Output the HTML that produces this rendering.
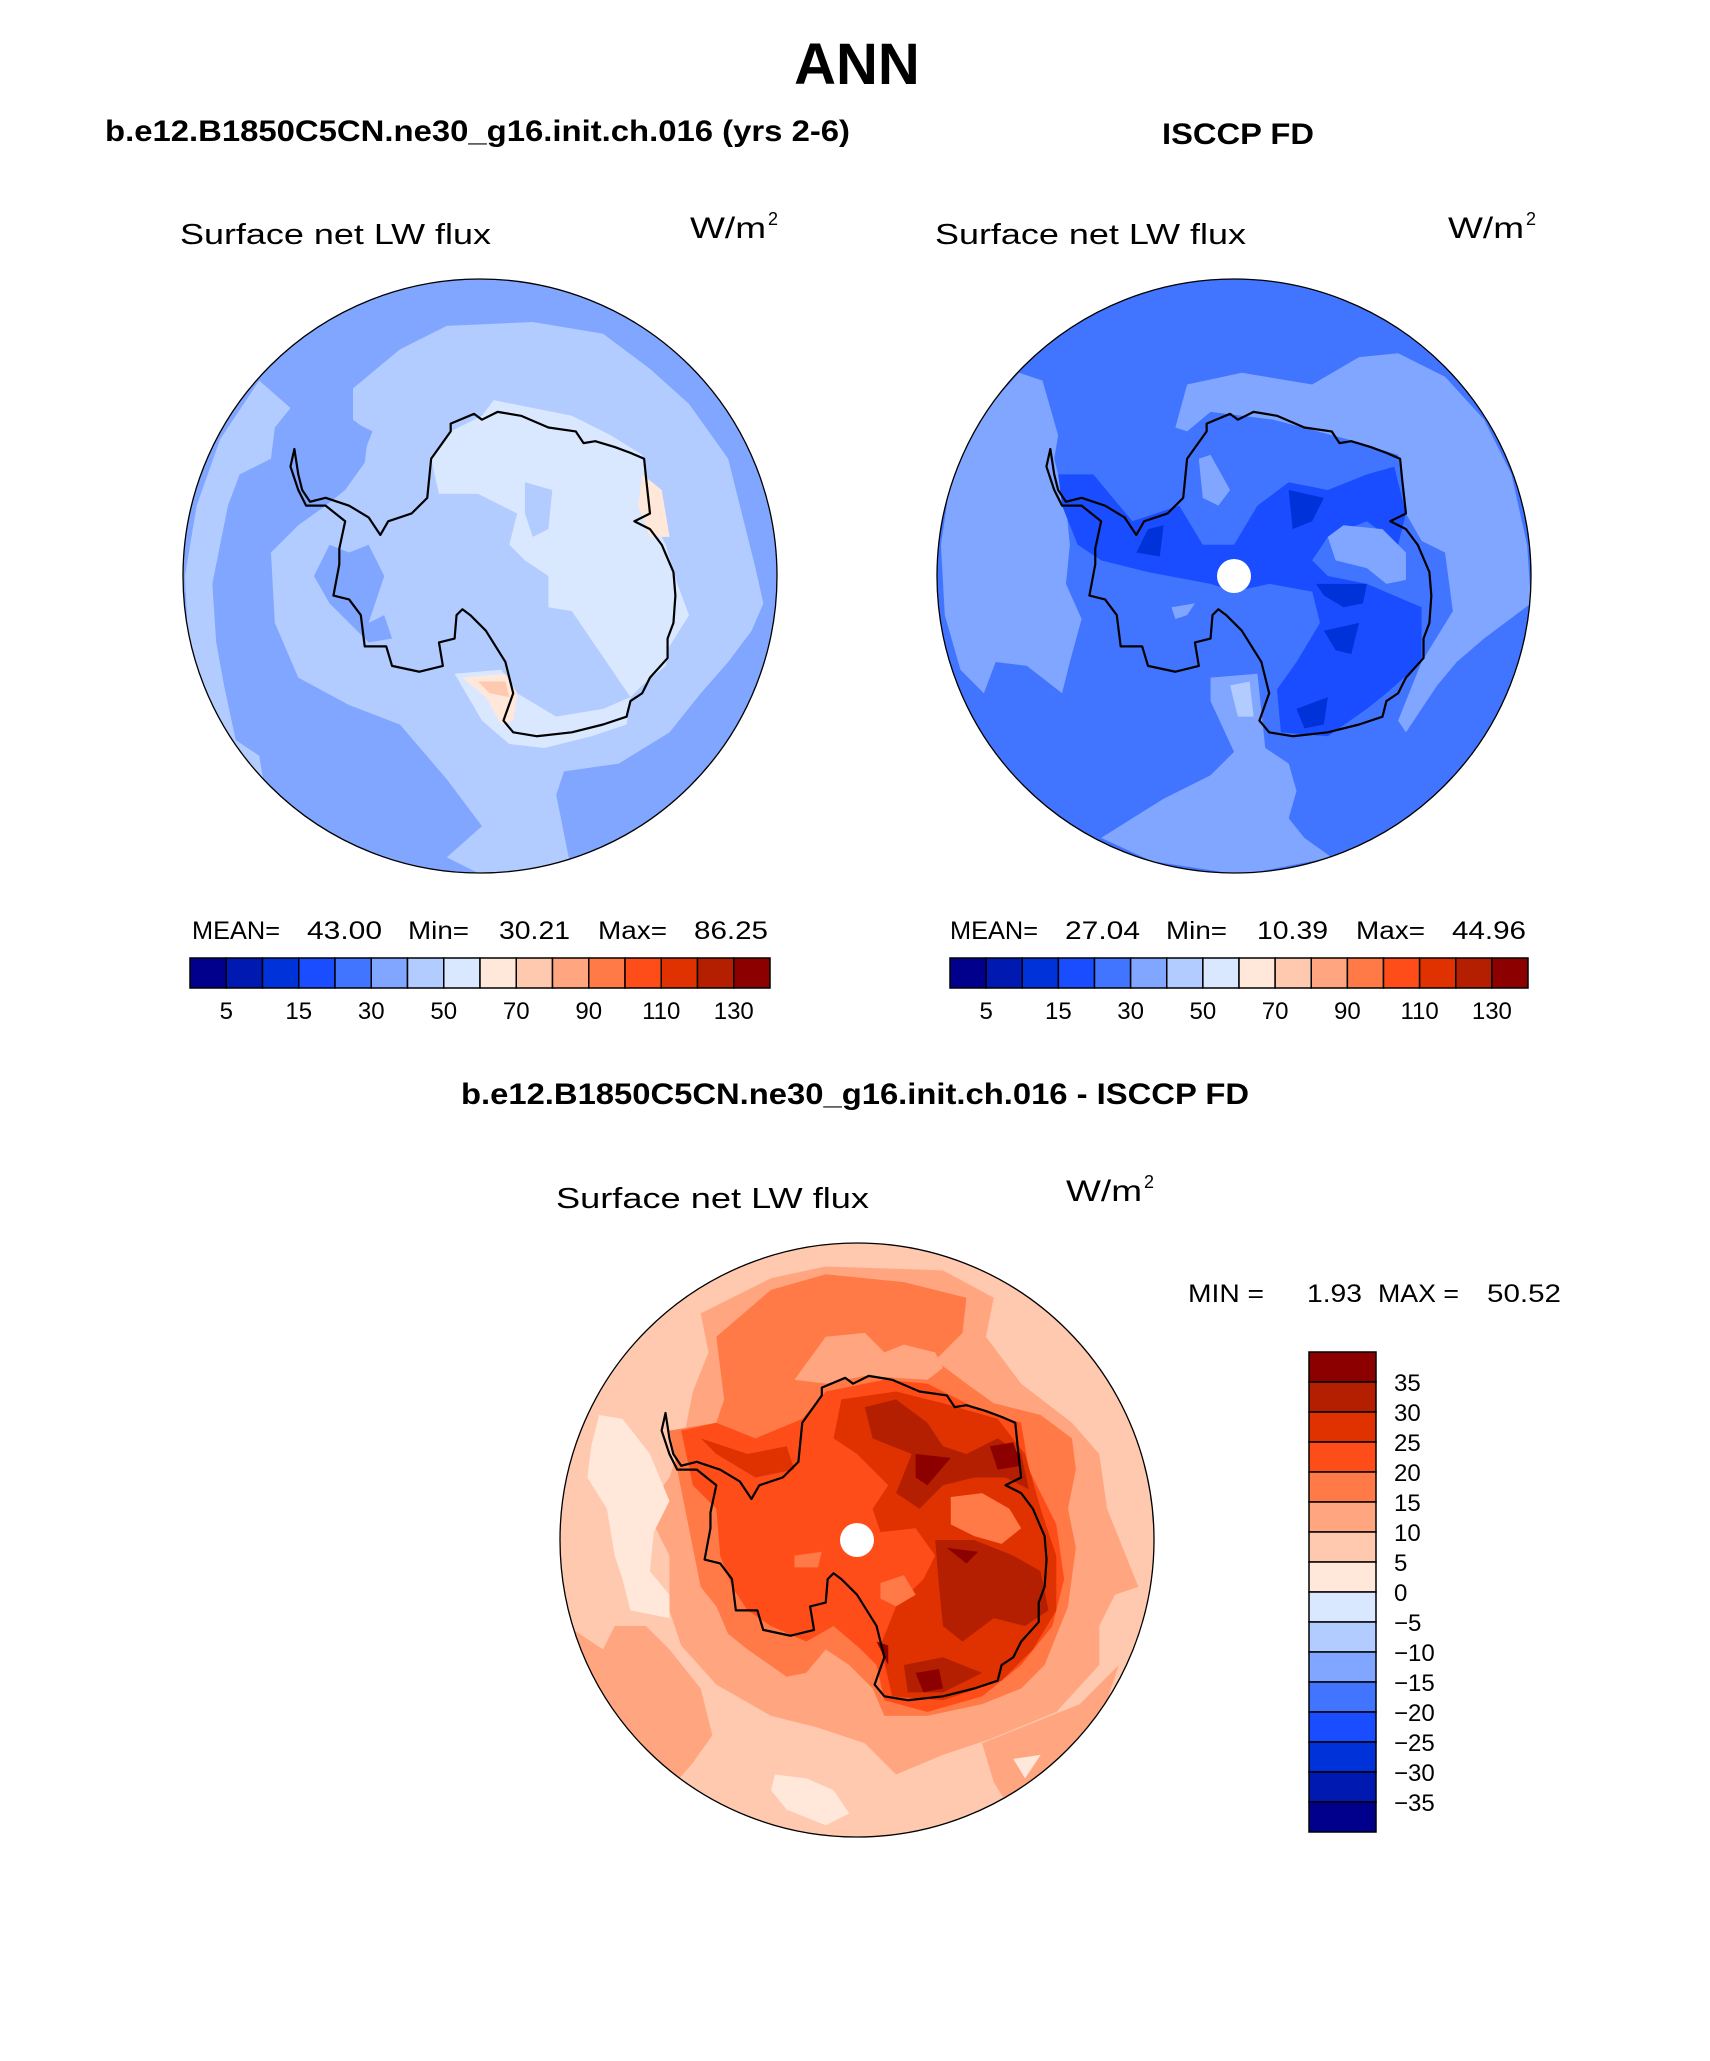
<!DOCTYPE html>
<html><head><meta charset="utf-8">
<style>
html,body{margin:0;padding:0;background:#fff;}
svg{display:block;}
text{font-family:"Liberation Sans",sans-serif;}
</style></head>
<body>
<svg id="fig" width="1710" height="2061" viewBox="0 0 1710 2061" xmlns="http://www.w3.org/2000/svg">
<defs>
  <clipPath id="cl"><circle cx="0" cy="0" r="297"/></clipPath>
</defs>
<text x="857" y="84" font-size="58" font-weight="bold" text-anchor="middle">ANN</text>
<text x="105" y="141" font-size="30" font-weight="bold" textLength="745" lengthAdjust="spacingAndGlyphs">b.e12.B1850C5CN.ne30_g16.init.ch.016 (yrs 2-6)</text>
<text x="1162" y="144" font-size="30" font-weight="bold" textLength="152" lengthAdjust="spacingAndGlyphs">ISCCP FD</text>
<text x="461" y="1104" font-size="30" font-weight="bold" textLength="788" lengthAdjust="spacingAndGlyphs">b.e12.B1850C5CN.ne30_g16.init.ch.016 - ISCCP FD</text>

<g id="maps"></g>
<g id="texts" font-size="28"></g>
<g id="bars"></g>
</svg>
<script>
const NS="http://www.w3.org/2000/svg";
const svg=document.getElementById('fig');
// colorbar data
const absLevels=[5,10,15,20,30,40,50,60,70,80,90,100,110,120,130];
const absLabels=["5","","15","","30","","50","","70","","90","","110","","130"];
const absColors=["#00008c","#0019b0","#0032d9","#1a4dff","#4275ff","#80a6ff","#b3ccff","#d9e8ff","#ffe8d9","#ffc9b0","#ffa680","#ff7a47","#ff4d1a","#e03200","#b31f00","#8c0000"];
const diffLabels=["35","30","25","20","15","10","5","0","\u22125","\u221210","\u221215","\u221220","\u221225","\u221230","\u221235"];
const diffColors=absColors.slice().reverse();
const coast=[[290,455],[300,520],[310,560],[330,590],[370,580],[430,600],[480,630],[510,675],[530,640],[590,620],[630,580],[640,480],[690,410],[690,390],[750,365],[770,380],[810,360],[870,370],[940,400],[1010,410],[1030,440],[1060,435],[1110,450],[1150,465],[1185,480],[1190,530],[1200,620],[1160,640],[1200,660],[1230,700],[1260,770],[1265,830],[1260,900],[1245,940],[1245,990],[1200,1040],[1180,1080],[1150,1100],[1140,1140],[1080,1160],[1000,1180],[910,1190],[850,1180],[825,1150],[850,1080],[830,1000],[780,920],[740,880],[720,865],[705,880],[700,940],[660,950],[670,1010],[610,1025],[540,1010],[525,960],[470,960],[460,880],[430,840],[390,830],[405,750],[405,710],[420,640],[370,600],[320,600],[300,560],[280,500]];
const C=absColors;
const leftShapes=[
 [C[6],[[440,300],[560,200],[680,140],[900,130],[1080,160],[1200,250],[1300,340],[1400,480],[1440,640],[1470,760],[1490,850],[1460,920],[1400,1000],[1330,1080],[1250,1180],[1120,1260],[980,1280],[960,1340],[980,1440],[1000,1540],[800,1560],[680,1500],[770,1420],[680,1300],[560,1160],[430,1110],[300,1040],[240,900],[230,720],[300,650],[370,600],[420,560],[470,490],[480,410],[440,380]]],
 [C[6],[[200,280],[280,350],[240,400],[230,480],[150,520],[120,600],[100,700],[80,800],[90,950],[110,1060],[140,1200],[200,1240],[210,1300],[130,1250],[60,1150],[20,980],[10,780],[40,600],[100,430]]],
 [C[5],[[240,400],[340,370],[430,380],[490,410],[470,460],[420,500],[350,530],[290,500]]],
 [C[5],[[430,720],[480,700],[520,780],[480,900],[520,880],[540,940],[480,950],[430,900],[380,850],[340,780],[380,700]]],
 [C[7],[[640,480],[690,410],[770,370],[800,330],[1000,370],[1100,420],[1180,470],[1200,620],[1240,700],[1270,800],[1300,880],[1250,960],[1240,1010],[1180,1060],[1150,1090],[1000,870],[940,860],[940,780],[880,740],[840,700],[860,620],[760,570],[660,570]]],
 [C[7],[[700,1030],[820,1020],[860,1080],[960,1140],[1080,1120],[1150,1090],[1140,1160],[1050,1190],[930,1220],[840,1210],[770,1150]]],
 [C[6],[[880,540],[950,560],[940,660],[900,680],[880,620]]],
 [C[8],[[1180,520],[1230,560],[1250,680],[1200,680],[1170,600]]],
 [C[8],[[720,1040],[830,1030],[860,1080],[850,1150],[820,1160],[780,1090]]],
 [C[9],[[760,1050],[830,1050],[840,1090],[790,1080]]]
];
const rightShapes=[
 [C[5],[[210,260],[270,280],[310,420],[300,480],[330,600],[340,700],[330,800],[370,890],[340,1000],[320,1080],[230,1010],[150,1000],[120,1080],[60,1020],[20,880],[10,700],[40,500],[120,360]]],
 [C[5],[[610,400],[640,290],[780,260],[960,290],[1080,220],[1180,210],[1300,270],[1400,380],[1470,520],[1510,700],[1520,850],[1480,880],[1400,940],[1330,1000],[1280,1060],[1200,1180],[1180,1150],[1240,1000],[1320,870],[1300,720],[1240,690],[1200,620],[1180,470],[1050,430],[860,380],[700,360],[640,410]]],
 [C[5],[[420,1450],[580,1350],[700,1290],[760,1230],[700,1100],[700,1040],[820,1030],[840,1220],[900,1260],[920,1330],[900,1400],[940,1450],[1010,1500],[780,1545],[550,1510]]],
 [C[3],[[310,520],[400,520],[450,580],[500,640],[620,600],[680,700],[760,700],[820,600],[900,540],[1000,560],[1100,520],[1170,500],[1200,620],[1180,700],[1100,640],[1000,680],[960,740],[1000,780],[1100,800],[1240,860],[1240,1000],[1150,1080],[1100,1120],[1000,1190],[880,1180],[870,1070],[920,1000],[980,900],[960,820],[850,800],[760,820],[700,800],[540,770],[420,740],[360,700],[320,600]]],
 [C[2],[[900,560],[990,580],[960,640],[910,660]]],
 [C[2],[[970,800],[1100,800],[1090,850],[1040,860],[990,830]]],
 [C[2],[[990,920],[1080,900],[1060,980],[1020,970]]],
 [C[2],[[920,1120],[1000,1090],[990,1160],[940,1170]]],
 [C[2],[[510,720],[540,660],[580,650],[570,730]]],
 [C[5],[[670,480],[700,470],[750,560],[720,600],[680,580]]],
 [C[5],[[1000,680],[1040,650],[1140,660],[1200,720],[1200,790],[1150,800],[1100,760],[1020,740]]],
 [C[5],[[600,860],[660,850],[640,880],[610,890]]],
 [C[6],[[750,1060],[800,1050],[810,1140],[770,1140]]]
];
const diffShapes=[
 [C[10],[[380,200],[560,110],[700,80],[1000,90],[1130,160],[1110,260],[1200,380],[1330,480],[1400,560],[1420,700],[1460,800],[1500,900],[1440,920],[1400,1000],[1400,1100],[1290,1220],[1120,1290],[1000,1330],[880,1380],[800,1300],[680,1260],[560,1230],[420,1150],[330,1050],[300,960],[300,820],[240,700],[300,620],[340,500],[360,400],[400,300]]],
 [C[10],[[40,1000],[130,1060],[160,1000],[240,1000],[300,1060],[380,1160],[410,1280],[360,1350],[300,1420],[200,1330],[100,1200]]],
 [C[10],[[1100,1300],[1350,1200],[1450,1100],[1400,1250],[1290,1400],[1180,1480],[1130,1400]]],
 [C[8],[[120,460],[180,470],[250,560],[300,680],[260,760],[250,860],[300,920],[300,980],[200,960],[180,880],[160,820],[140,700],[90,620],[100,540]]],
 [C[8],[[570,1380],[650,1390],[720,1420],[760,1480],[700,1510],[600,1470],[560,1420]]],
 [C[8],[[1180,1340],[1250,1330],[1210,1390]]],
 [C[11],[[420,260],[560,140],[700,100],[900,120],[1060,160],[1050,250],[980,320],[1060,380],[1130,430],[1250,460],[1330,520],[1340,600],[1320,700],[1340,800],[1320,950],[1260,1100],[1200,1160],[1100,1200],[960,1230],[850,1230],[820,1160],[760,1100],[700,1060],[650,1120],[600,1130],[500,1060],[450,1020],[420,950],[380,900],[360,800],[340,700],[320,600],[300,500],[420,480],[440,420]]],
 [C[10],[[620,370],[700,260],[800,250],[850,300],[900,280],[980,300],[1000,340],[960,370],[800,360],[700,380]]],
 [C[12],[[330,500],[420,480],[520,520],[640,470],[700,400],[850,370],[960,380],[1040,420],[1100,450],[1200,480],[1220,600],[1290,740],[1310,880],[1280,1000],[1200,1100],[1100,1180],[960,1220],[850,1190],[830,1100],[790,1060],[720,1000],[650,1040],[560,1000],[500,960],[460,900],[430,820],[420,700],[360,640]]],
 [C[13],[[740,420],[880,400],[1000,430],[1140,470],[1210,560],[1250,700],[1290,820],[1290,960],[1230,1060],[1150,1140],[1000,1190],[870,1180],[840,1050],[880,950],[950,880],[980,820],[930,750],[840,760],[820,700],[860,640],[780,560],[720,520]]],
 [C[13],[[380,520],[500,560],[600,540],[620,600],[520,620],[420,560]]],
 [C[14],[[800,440],[880,420],[960,480],[1000,540],[1060,560],[1140,520],[1200,560],[1220,650],[1160,620],[1080,620],[1000,640],[940,700],[880,660],[920,560],[820,520]]],
 [C[14],[[980,780],[1080,780],[1180,820],[1250,860],[1270,960],[1210,1000],[1130,980],[1050,1040],[1000,1000],[990,900]]],
 [C[14],[[900,1100],[1000,1080],[1100,1120],[1000,1170],[910,1170]]],
 [C[15],[[930,560],[1020,570],[960,640],[930,620]]],
 [C[15],[[1120,540],[1180,530],[1200,590],[1140,600]]],
 [C[15],[[1010,800],[1090,810],[1060,840]]],
 [C[15],[[930,1120],[990,1110],[1000,1160],[950,1170]]],
 [C[15],[[830,1040],[860,1050],[860,1100]]],
 [C[11],[[1020,670],[1100,660],[1170,700],[1200,750],[1150,790],[1080,770],[1020,740]]],
 [C[11],[[840,890],[900,870],[930,920],[880,950],[840,930]]],
 [C[11],[[620,820],[690,810],[680,850],[620,850]]]
];
function el(tag,attrs,parent){const e=document.createElementNS(NS,tag);for(const k in attrs)e.setAttribute(k,attrs[k]);parent.appendChild(e);return e;}
const maps=document.getElementById('maps');
const SC=297/760;
function drawMap(name,cx,cy,fx,fy,base,shapes,dot){
  const g=el('g',{transform:`translate(${cx},${cy})`},maps);
  
  
  const inner=el('g',{'clip-path':'url(#cl)'},g);
  el('circle',{cx:0,cy:0,r:297,fill:base},inner);
  const fr=el('g',{transform:`scale(${SC}) translate(${-fx},${-fy})`},inner);
  shapes.forEach(s=>{
    const p=el('polygon',{points:s[1].map(q=>q.join(',')).join(' '),fill:s[0]},fr);
    
    
  });
  const cst=el('polygon',{points:coast.map(q=>q.join(',')).join(' '),fill:'none',stroke:'#000','stroke-width':2.2,'vector-effect':'non-scaling-stroke','stroke-linejoin':'round'},fr);
  
  
  if(dot){const d=el('circle',{cx:0,cy:0,r:17,fill:'#fff'},g);
    
    }
  const b=el('circle',{cx:0,cy:0,r:297,fill:'none',stroke:'#000','stroke-width':1.3},g);
  
  
}
drawMap('model-map',480,576,765,780,C[5],leftShapes,false);
drawMap('obs-map',1234,576,760,780,C[4],rightShapes,true);
drawMap('diff-map',857,1540,780,780,C[9],diffShapes,true);

const T=document.getElementById('texts');
function txt(s,x,y,size,name,len){const t=el('text',{x:x,y:y,'font-size':size,fill:'#000'},T);
  if(len){t.setAttribute('textLength',len);t.setAttribute('lengthAdjust','spacingAndGlyphs');}
  t.textContent=s;
  
  return t;}
txt('Surface net LW flux',180,244,29,'model-variable-label',311);
txt('Surface net LW flux',935,244,29,'obs-variable-label',311);
txt('Surface net LW flux',556,1208,29,'diff-variable-label',313);
function units(x,y,name){const t=txt('W/m',x,y,30,name);t.setAttribute('textLength',76);t.setAttribute('lengthAdjust','spacingAndGlyphs');
  const u=el('text',{x:x+78,y:y-13,'font-size':18},T);u.textContent='2';
  
  }
units(690,238,'model-units');units(1448,238,'obs-units');units(1066,1201,'diff-units');
function stats(x0,y,parts,name){parts.forEach(p=>txt(p[0],x0+p[1],y,25,name,p[2]));}
stats(192,939,[['MEAN=',0,88],['43.00',115,75],['Min=',216,61],['30.21',307,71],['Max=',406,69],['86.25',502,74]],'model-stats');
stats(950,939,[['MEAN=',0,88],['27.04',115,75],['Min=',216,61],['10.39',307,71],['Max=',406,69],['44.96',502,74]],'obs-stats');
stats(1188,1302,[['MIN =',0,76],['1.93',119,55],['MAX =',190,81],['50.52',299,74]],'diff-minmax');

const B=document.getElementById('bars');
function hbar(x0,x1,y0,y1,name){
  const g=el('g',{},B);
  
  
  const w=(x1-x0)/absColors.length;
  absColors.forEach((c,i)=>{const r=el('rect',{x:x0+i*w,y:y0,width:w,height:y1-y0,fill:c,stroke:'#000','stroke-width':1.5},g);
    
    });
  absLevels.forEach((v,i)=>{if(!absLabels[i])return;
    const t=el('text',{x:x0+(i+1)*w,y:y1+31,'font-size':24,'text-anchor':'middle'},g);t.textContent=absLabels[i];
    
    });
}
hbar(190,770,958,988,'model-colorbar');
hbar(950,1528,958,988,'obs-colorbar');
(function(){
  const x0=1309,x1=1376,y0=1352,y1=1832;
  const g=el('g',{},B);
  
  
  const h=(y1-y0)/diffColors.length;
  diffColors.forEach((c,i)=>{const r=el('rect',{x:x0,y:y0+i*h,width:x1-x0,height:h,fill:c,stroke:'#000','stroke-width':1.5},g);
    
    });
  diffLabels.forEach((s,i)=>{const t=el('text',{x:x1+18,y:y0+(i+1)*h+9,'font-size':24},g);t.textContent=s;
    
    });
})();
</script>
</body></html>
